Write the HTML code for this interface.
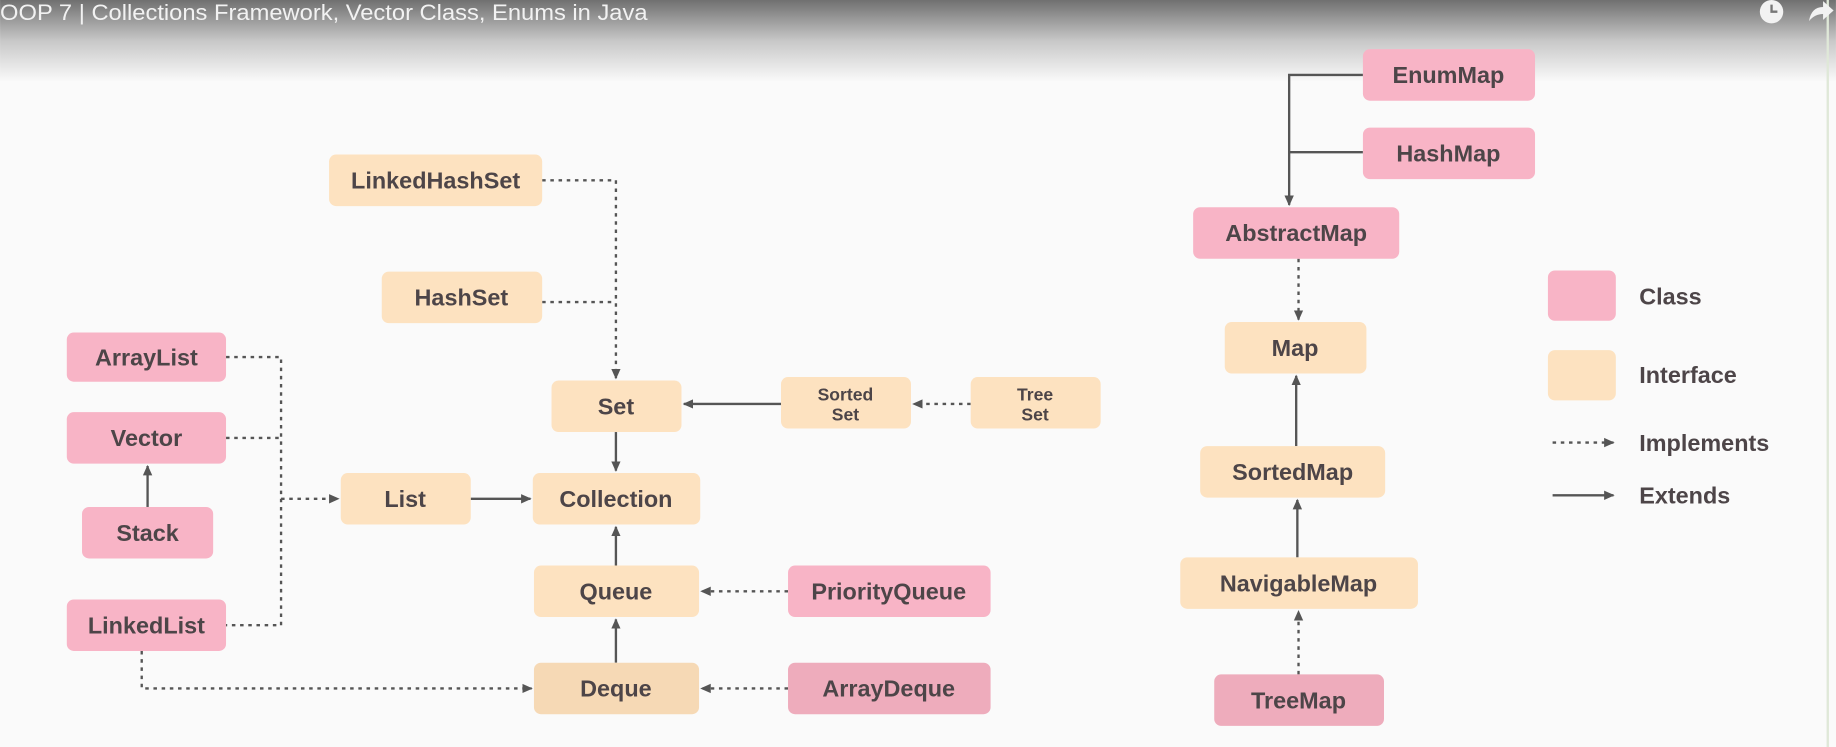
<!DOCTYPE html>
<html><head><meta charset="utf-8"><style>
html,body{margin:0;padding:0;width:1836px;height:747px;overflow:hidden;background:#fafafa}
svg{display:block}
text{font-family:"Liberation Sans",sans-serif;font-weight:bold;fill:#4d4548}
</style></head><body>
<svg width="1836" height="747" viewBox="0 0 1568 638" xmlns="http://www.w3.org/2000/svg">
<defs>
<linearGradient id="g" x1="0" y1="0" x2="0" y2="1">
<stop offset="0" stop-color="#707070"/><stop offset="0.5" stop-color="#c8c8c8"/><stop offset="1" stop-color="#fafafa"/>
</linearGradient>
<marker id="a" markerWidth="10" markerHeight="10" refX="8" refY="5" orient="auto" markerUnits="userSpaceOnUse">
<path d="M0,1 L9,5 L0,9 z" fill="#555"/></marker>
</defs>
<rect x="0" y="0" width="1568" height="638" fill="#fafafa"/>
<rect x="0" y="0" width="1568" height="70" fill="url(#g)"/>
<line x1="1561" y1="0" x2="1561" y2="638" stroke="#dfe8d8" stroke-width="2"/>
<text x="0" y="17" font-size="19" textLength="553" lengthAdjust="spacingAndGlyphs" style="font-weight:normal;fill:#f2f2f2">OOP 7 | Collections Framework, Vector Class, Enums in Java</text>
<circle cx="1513" cy="10" r="10" fill="#f2f2f2"/><path d="M1513,4 V10 H1518" stroke="#777" stroke-width="2" fill="none"/>
<path d="M1545,18 Q1547,6 1557,6 V1 L1566,9 L1557,17 V12 Q1550,12 1545,18z" fill="#f2f2f2"/>

<g fill="none" stroke="#555" stroke-width="2">
<g stroke-dasharray="3,4">
<path d="M463,154 H526 V323" marker-end="url(#a)"/>
<path d="M463,258 H526"/>
<path d="M193,305 H240 V534 H193"/>
<path d="M193,374 H240"/>
<path d="M240,426 H289" marker-end="url(#a)"/>
<path d="M829,345 H780" marker-end="url(#a)"/>
<path d="M673,505 H599" marker-end="url(#a)"/>
<path d="M673,588 H599" marker-end="url(#a)"/>
<path d="M121,556 V588 H454" marker-end="url(#a)"/>
<path d="M1109,221 V273" marker-end="url(#a)"/>
<path d="M1109,576 V522" marker-end="url(#a)"/>
<path d="M1326,378 H1378" marker-end="url(#a)"/>
</g>
<path d="M126,433 V398" marker-end="url(#a)"/>
<path d="M402,426 H453" marker-end="url(#a)"/>
<path d="M526,369 V402" marker-end="url(#a)"/>
<path d="M667,345 H584" marker-end="url(#a)"/>
<path d="M526,483 V450" marker-end="url(#a)"/>
<path d="M526,566 V529" marker-end="url(#a)"/>
<path d="M1164,64 H1101 V175" marker-end="url(#a)"/>
<path d="M1164,130 H1101"/>
<path d="M1107,381 V321" marker-end="url(#a)"/>
<path d="M1108,476 V427" marker-end="url(#a)"/>
<path d="M1326,423 H1378" marker-end="url(#a)"/>
</g>

<g font-size="20" text-anchor="middle">
<g fill="#fde2c0">
<rect x="281" y="132" width="182" height="44" rx="6"/>
<rect x="326" y="232" width="137" height="44" rx="6"/>
<rect x="291" y="404" width="111" height="44" rx="6"/>
<rect x="471" y="325" width="111" height="44" rx="6"/>
<rect x="455" y="404" width="143" height="44" rx="6"/>
<rect x="667" y="322" width="111" height="44" rx="6"/>
<rect x="829" y="322" width="111" height="44" rx="6"/>
<rect x="456" y="483" width="141" height="44" rx="6"/>
<rect x="456" y="566" width="141" height="44" rx="6" fill="#f6d9b5"/>
<rect x="1046" y="275" width="121" height="44" rx="6"/>
<rect x="1025" y="381" width="158" height="44" rx="6"/>
<rect x="1008" y="476" width="203" height="44" rx="6"/>
<rect x="1322" y="299" width="58" height="43" rx="6"/>
</g>
<g fill="#f8b4c6">
<rect x="57" y="284" width="136" height="42" rx="6"/>
<rect x="57" y="352" width="136" height="44" rx="6"/>
<rect x="70" y="433" width="112" height="44" rx="6"/>
<rect x="57" y="512" width="136" height="44" rx="6"/>
<rect x="673" y="483" width="173" height="44" rx="6"/>
<rect x="673" y="566" width="173" height="44" rx="6" fill="#eeacbc"/>
<rect x="1164" y="42" width="147" height="44" rx="6"/>
<rect x="1164" y="109" width="147" height="44" rx="6"/>
<rect x="1019" y="177" width="176" height="44" rx="6"/>
<rect x="1037" y="576" width="145" height="44" rx="6" fill="#eeacbc"/>
<rect x="1322" y="231" width="58" height="43" rx="6"/>
</g>
<text x="372" y="161">LinkedHashSet</text>
<text x="394" y="261">HashSet</text>
<text x="125" y="312">ArrayList</text>
<text x="125" y="381">Vector</text>
<text x="126" y="462">Stack</text>
<text x="125" y="541">LinkedList</text>
<text x="346" y="433">List</text>
<text x="526" y="354">Set</text>
<text x="526" y="433">Collection</text>
<text x="722" y="342" font-size="15">Sorted</text>
<text x="722" y="359" font-size="15">Set</text>
<text x="884" y="342" font-size="15">Tree</text>
<text x="884" y="359" font-size="15">Set</text>
<text x="526" y="512">Queue</text>
<text x="759" y="512">PriorityQueue</text>
<text x="526" y="595">Deque</text>
<text x="759" y="595">ArrayDeque</text>
<text x="1237" y="71">EnumMap</text>
<text x="1237" y="138">HashMap</text>
<text x="1107" y="206">AbstractMap</text>
<text x="1106" y="304">Map</text>
<text x="1104" y="410">SortedMap</text>
<text x="1109" y="505">NavigableMap</text>
<text x="1109" y="605">TreeMap</text>
</g>
<g font-size="20">
<text x="1400" y="260">Class</text>
<text x="1400" y="327">Interface</text>
<text x="1400" y="385">Implements</text>
<text x="1400" y="430">Extends</text>
</g>
</svg>
</body></html>
